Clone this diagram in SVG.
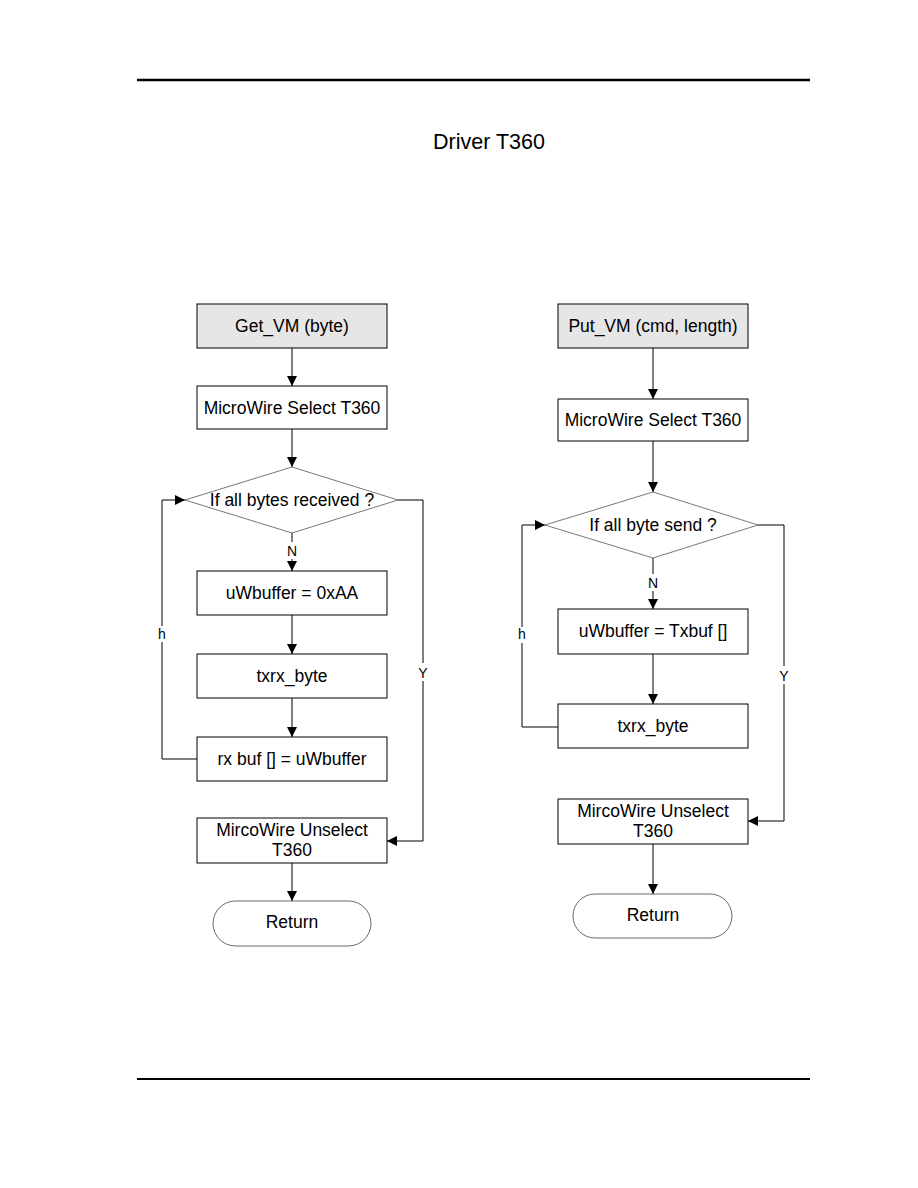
<svg xmlns="http://www.w3.org/2000/svg" width="918" height="1188" viewBox="0 0 918 1188">
<defs>
<style>
.box{fill:#fff;stroke:#000;stroke-width:1}
.start{fill:#e6e6e6;stroke:#000;stroke-width:1}
.dia{fill:#fff;stroke:#555;stroke-width:0.8}
.term{fill:#fff;stroke:#444;stroke-width:0.8}
.t{font-family:"Liberation Sans",Arial,sans-serif;font-size:17.5px;fill:#000;text-anchor:middle}
.lbl{font-family:"Liberation Sans",Arial,sans-serif;font-size:14px;fill:#000;text-anchor:middle}
.c{fill:none;stroke:#000;stroke-width:1}
</style>
<marker id="ah" viewBox="0 0 10 10" refX="10" refY="5" markerWidth="10" markerHeight="10" markerUnits="userSpaceOnUse" orient="auto">
<path d="M0,0 L10,5 L0,10 z" fill="#000"/>
</marker>
</defs>
<rect width="918" height="1188" fill="#fff"/>
<line x1="137" y1="80" x2="810" y2="80" stroke="#000" stroke-width="2.5"/>
<line x1="137" y1="1079" x2="810" y2="1079" stroke="#000" stroke-width="2"/>
<text x="489" y="149" font-family="Liberation Sans,Arial,sans-serif" font-size="21.5" text-anchor="middle">Driver T360</text>

<g id="connectors">
<line class="c" x1="292" y1="348" x2="292" y2="386" marker-end="url(#ah)"/>
<line class="c" x1="292" y1="429" x2="292" y2="467" marker-end="url(#ah)"/>
<line class="c" x1="292" y1="533" x2="292" y2="542"/>
<line class="c" x1="292" y1="559" x2="292" y2="571" marker-end="url(#ah)"/>
<line class="c" x1="292" y1="615" x2="292" y2="654" marker-end="url(#ah)"/>
<line class="c" x1="292" y1="698" x2="292" y2="737" marker-end="url(#ah)"/>
<polyline class="c" points="197,759 162,759 162,642"/>
<polyline class="c" points="162,626 162,500 185,500" marker-end="url(#ah)"/>
<polyline class="c" points="398,500 423,500 423,663"/>
<polyline class="c" points="423,681 423,841 387,841" marker-end="url(#ah)"/>
<line class="c" x1="292" y1="863" x2="292" y2="901" marker-end="url(#ah)"/>
<text class="lbl" x="292" y="556">N</text>
<text class="lbl" x="162" y="639">h</text>
<text class="lbl" x="423" y="678">Y</text>

<line class="c" x1="653" y1="348" x2="653" y2="399" marker-end="url(#ah)"/>
<line class="c" x1="653" y1="441" x2="653" y2="492" marker-end="url(#ah)"/>
<line class="c" x1="653" y1="558" x2="653" y2="574"/>
<line class="c" x1="653" y1="591" x2="653" y2="609" marker-end="url(#ah)"/>
<line class="c" x1="653" y1="654" x2="653" y2="704" marker-end="url(#ah)"/>
<polyline class="c" points="558,727 522,727 522,643"/>
<polyline class="c" points="522,627 522,525 545,525" marker-end="url(#ah)"/>
<polyline class="c" points="758,525 784,525 784,666"/>
<polyline class="c" points="784,684 784,821 748,821" marker-end="url(#ah)"/>
<line class="c" x1="653" y1="844" x2="653" y2="894" marker-end="url(#ah)"/>
<text class="lbl" x="653" y="588">N</text>
<text class="lbl" x="522" y="639">h</text>
<text class="lbl" x="784" y="681">Y</text>
</g>

<g id="get_vm"><rect class="start" x="197" y="304" width="190" height="44"/><text class="t" x="292" y="332">Get_VM (byte)</text></g>
<g id="l_select"><rect class="box" x="197" y="386" width="190" height="43"/><text class="t" x="292" y="414">MicroWire Select T360</text></g>
<g id="l_decision"><polygon class="dia" points="292,467 398,500 292,533 185,500"/><text class="t" x="292" y="506">If all bytes received ?</text></g>
<g id="l_uwbuffer"><rect class="box" x="197" y="571" width="190" height="44"/><text class="t" x="292" y="599">uWbuffer = 0xAA</text></g>
<g id="l_txrx"><rect class="box" x="197" y="654" width="190" height="44"/><text class="t" x="292" y="682">txrx_byte</text></g>
<g id="l_rxbuf"><rect class="box" x="197" y="737" width="190" height="44"/><text class="t" x="292" y="765">rx buf [] = uWbuffer</text></g>
<g id="l_unselect"><rect class="box" x="197" y="818" width="190" height="45"/><text class="t" x="292" y="836">MircoWire Unselect</text><text class="t" x="292" y="856">T360</text></g>
<g id="l_return"><rect class="term" x="213" y="901" width="158" height="45" rx="22.5"/><text class="t" x="292" y="928">Return</text></g>

<g id="put_vm"><rect class="start" x="558" y="304" width="190" height="44"/><text class="t" x="653" y="332">Put_VM (cmd, length)</text></g>
<g id="r_select"><rect class="box" x="558" y="399" width="190" height="42"/><text class="t" x="653" y="426">MicroWire Select T360</text></g>
<g id="r_decision"><polygon class="dia" points="653,492 758,525 653,558 545,525"/><text class="t" x="653" y="531">If all byte send ?</text></g>
<g id="r_uwbuffer"><rect class="box" x="558" y="609" width="190" height="45"/><text class="t" x="653" y="637">uWbuffer = Txbuf []</text></g>
<g id="r_txrx"><rect class="box" x="558" y="704" width="190" height="44"/><text class="t" x="653" y="732">txrx_byte</text></g>
<g id="r_unselect"><rect class="box" x="558" y="799" width="190" height="45"/><text class="t" x="653" y="817">MircoWire Unselect</text><text class="t" x="653" y="837">T360</text></g>
<g id="r_return"><rect class="term" x="573" y="894" width="159" height="44" rx="22"/><text class="t" x="653" y="921">Return</text></g>
</svg>
